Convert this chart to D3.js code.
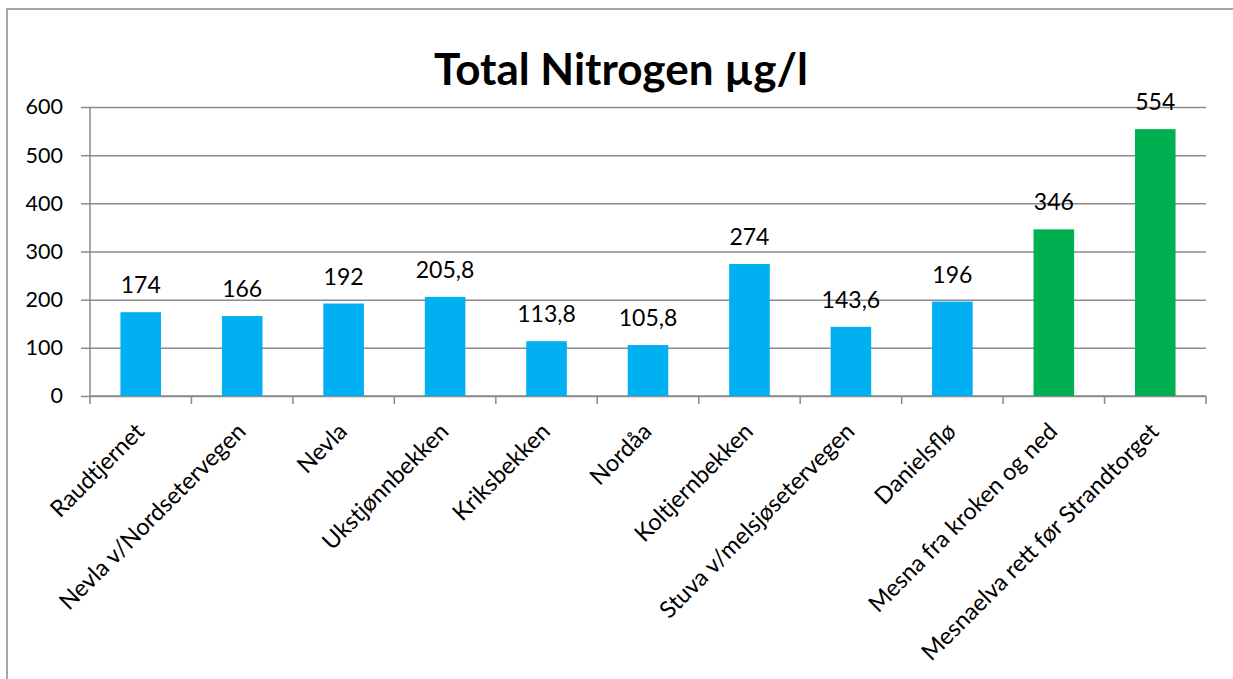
<!DOCTYPE html>
<html>
<head>
<meta charset="utf-8">
<script src="https://cdn.jsdelivr.net/npm/d3@7"></script>
<style>
  body { margin: 0; background: #fff; }
  text { font-family: Lato, "Open Sans", sans-serif; fill: #000; }
</style>
</head>
<body>
<div id="chart"></div>
<script>
// data
const stations = ['Raudtjernet', 'Nevla v/Nordsetervegen', 'Nevla', 'Ukstjønnbekken', 'Kriksbekken',
  'Nordåa', 'Koltjernbekken', 'Stuva v/melsjøsetervegen', 'Danielsflø', 'Mesna fra kroken og ned',
  'Mesnaelva rett før Strandtorget']
const nitrogen = [174, 166, 192, 205.8, 113.8, 105.8, 274, 143.6, 196, 346, 554]
const groups = ['tributary', 'tributary', 'tributary', 'tributary', 'tributary', 'tributary',
  'tributary', 'tributary', 'tributary', 'main', 'main']
const yTicks = [0, 100, 200, 300, 400, 500, 600]

const data = stations.map((s, i) => ({name: s, value: nitrogen[i], group: groups[i]}))

const width = 1233, height = 679
const margin = ({top: 107, right: 27, bottom: 283, left: 90})
const plotW = width - margin.left - margin.right
const plotH = height - margin.top - margin.bottom

const color = d3.scaleOrdinal().domain(['tributary', 'main']).range(['#00b0f0', '#00b050'])
const fmt = v => String(v).replace('.', ',')

const x = d3.scaleBand()
    .domain(stations)
    .range([0, plotW])
    .paddingInner(0.6)
    .paddingOuter(0.3)
const y = d3.scaleLinear()
    .domain([0, 600])
    .range([plotH, 0])

const svg = d3.select('#chart')
  .append('svg')
    .attr('width', width)
    .attr('height', height)

// chart frame
svg.append('rect')
    .attr('x', 7)
    .attr('y', 9)
    .attr('width', 1400)
    .attr('height', 900)
    .attr('fill', 'none')
    .attr('stroke', '#8a8a8a')
    .attr('stroke-width', 1.5)

svg.append('text')
    .attr('x', 621)
    .attr('y', 85)
    .attr('text-anchor', 'middle')
    .attr('font-size', 44)
    .attr('font-weight', 'bold')
    .text('Total Nitrogen µg/l')

const g = svg.append('g')
    .attr('transform', `translate(${margin.left}, ${margin.top})`)

// y axis with grid lines
g.append('g')
    .call(d3.axisLeft(y).tickValues(yTicks).tickSize(9).tickPadding(18))
    .call(g => g.selectAll('.tick line')
      .clone()
        .attr('x1', 0)
        .attr('x2', plotW))
    .call(g => g.selectAll('line, .domain')
        .attr('stroke', '#8a8a8a')
        .attr('stroke-width', 1.5))
    .call(g => g.select('.domain').attr('d', `M0,0V${plotH}`))
    .call(g => g.selectAll('.tick text')
        .attr('font-size', 21.5)
        .attr('font-family', 'Lato, sans-serif')
        .attr('fill', '#000'))

// x axis: ticks sit between the categories
const gap = (x.step() - x.bandwidth()) / 2
const bounds = stations.map(s => x(s) - gap).concat([plotW])
const xg = g.append('g').attr('transform', `translate(0, ${plotH})`)
xg.append('line')
    .attr('x1', 0)
    .attr('x2', plotW)
    .attr('stroke', '#8a8a8a')
    .attr('stroke-width', 1.5)
xg.selectAll('.xtick')
  .data(bounds)
  .join('line')
    .attr('class', 'xtick')
    .attr('x1', d => d)
    .attr('x2', d => d)
    .attr('y1', 0)
    .attr('y2', 8)
    .attr('stroke', '#8a8a8a')
    .attr('stroke-width', 1.5)
xg.selectAll('.xlabel')
  .data(stations)
  .join('text')
    .attr('class', 'xlabel')
    .attr('transform', d => `translate(${x(d) + x.bandwidth() / 2 + 5}, 37) rotate(-45)`)
    .attr('text-anchor', 'end')
    .attr('font-size', 23.5)
    .text(d => d)

// bars
g.selectAll('.bar')
  .data(data)
  .join('rect')
    .attr('class', 'bar')
    .attr('x', d => x(d.name))
    .attr('y', d => y(d.value))
    .attr('width', x.bandwidth())
    .attr('height', d => plotH - y(d.value))
    .attr('fill', d => color(d.group))

// value labels
g.selectAll('.val')
  .data(data)
  .join('text')
    .attr('class', 'val')
    .attr('x', d => x(d.name) + x.bandwidth() / 2)
    .attr('y', d => y(d.value) - 19)
    .attr('text-anchor', 'middle')
    .attr('font-size', 23)
    .text(d => fmt(d.value))
</script>
</body>
</html>
